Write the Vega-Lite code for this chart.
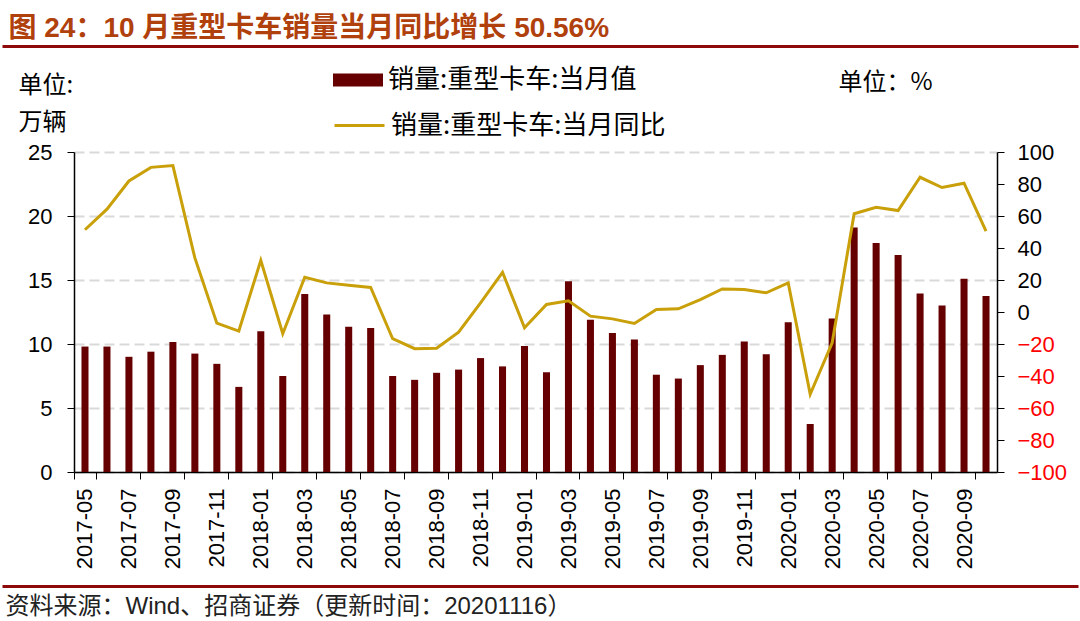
{
  "$schema": "https://vega.github.io/schema/vega-lite/v6.json",
  "width": 923,
  "height": 320,
  "autosize": {"type": "none"},
  "padding": {"left": 74, "top": 152, "right": 83, "bottom": 149},
  "background": "white",
  "config": {
    "view": {"stroke": null},
    "font": "Liberation Sans, Noto Sans CJK SC",
    "axis": {"labelFont": "Liberation Sans", "titleFont": "Noto Sans CJK SC", "labelColor": "black", "titleColor": "black", "titleFontWeight": "normal", "titleLimit": 2000, "labelOverlap": false, "labelFlush": false},
    "legend": {"labelFont": "Noto Sans CJK SC", "labelColor": "black", "labelLimit": 1000, "padding": 0, "rowPadding": 0, "offset": 0}
  },
  "datasets": {
    "d": [
      {"m": "2017-05", "v": 9.8, "yoy": 51.4},
      {"m": "2017-06", "v": 9.8, "yoy": 64.3},
      {"m": "2017-07", "v": 9.0, "yoy": 81.9},
      {"m": "2017-08", "v": 9.4, "yoy": 90.4},
      {"m": "2017-09", "v": 10.15, "yoy": 91.5},
      {"m": "2017-10", "v": 9.25, "yoy": 33.8},
      {"m": "2017-11", "v": 8.45, "yoy": -7.0},
      {"m": "2017-12", "v": 6.65, "yoy": -11.9},
      {"m": "2018-01", "v": 11.0, "yoy": 32.3},
      {"m": "2018-02", "v": 7.5, "yoy": -13.6},
      {"m": "2018-03", "v": 13.9, "yoy": 21.7},
      {"m": "2018-04", "v": 12.3, "yoy": 18.2},
      {"m": "2018-05", "v": 11.35, "yoy": 16.7},
      {"m": "2018-06", "v": 11.25, "yoy": 15.3},
      {"m": "2018-07", "v": 7.5, "yoy": -16.7},
      {"m": "2018-08", "v": 7.2, "yoy": -22.9},
      {"m": "2018-09", "v": 7.75, "yoy": -22.7},
      {"m": "2018-10", "v": 8.0, "yoy": -12.6},
      {"m": "2018-11", "v": 8.9, "yoy": 5.7},
      {"m": "2018-12", "v": 8.25, "yoy": 24.8},
      {"m": "2019-01", "v": 9.85, "yoy": -9.9},
      {"m": "2019-02", "v": 7.8, "yoy": 4.7},
      {"m": "2019-03", "v": 14.9, "yoy": 7.0},
      {"m": "2019-04", "v": 11.9, "yoy": -2.6},
      {"m": "2019-05", "v": 10.85, "yoy": -4.3},
      {"m": "2019-06", "v": 10.35, "yoy": -7.2},
      {"m": "2019-07", "v": 7.6, "yoy": 1.6},
      {"m": "2019-08", "v": 7.3, "yoy": 2.0},
      {"m": "2019-09", "v": 8.35, "yoy": 7.8},
      {"m": "2019-10", "v": 9.15, "yoy": 14.4},
      {"m": "2019-11", "v": 10.2, "yoy": 14.0},
      {"m": "2019-12", "v": 9.2, "yoy": 12.0},
      {"m": "2020-01", "v": 11.7, "yoy": 18.2},
      {"m": "2020-02", "v": 3.75, "yoy": -51.4},
      {"m": "2020-03", "v": 12.0, "yoy": -19.2},
      {"m": "2020-04", "v": 19.1, "yoy": 61.4},
      {"m": "2020-05", "v": 17.9, "yoy": 65.5},
      {"m": "2020-06", "v": 16.95, "yoy": 63.4},
      {"m": "2020-07", "v": 13.95, "yoy": 84.2},
      {"m": "2020-08", "v": 13.0, "yoy": 77.8},
      {"m": "2020-09", "v": 15.1, "yoy": 80.5},
      {"m": "2020-10", "v": 13.75, "yoy": 50.56}
    ]
  },
  "data": {"name": "d"},
  "layer": [
    {
      "layer": [
        {
          "mark": {"type": "bar", "width": {"band": 0.32}},
          "encoding": {
            "x": {
              "field": "m", "type": "ordinal",
              "scale": {"paddingInner": 0, "paddingOuter": 0},
              "axis": {
                "values": ["2017-05","2017-07","2017-09","2017-11","2018-01","2018-03","2018-05","2018-07","2018-09","2018-11","2019-01","2019-03","2019-05","2019-07","2019-09","2019-11","2020-01","2020-03","2020-05","2020-07","2020-09"],
                "tickBand": "extent",
                "labelAngle": -90,
                "labelFontSize": 22,
                "labelPadding": 9,
                "tickSize": 7,
                "tickColor": "black",
                "domainColor": "black",
                "domainWidth": 1.5,
                "grid": false,
                "title": null
              }
            },
            "y": {
              "field": "v", "type": "quantitative",
              "scale": {"domain": [0, 25], "nice": false},
              "axis": {
                "values": [0, 5, 10, 15, 20, 25],
                "labelFontSize": 22,
                "labelPadding": 15,
                "tickSize": 7,
                "tickColor": "black",
                "domainColor": "black",
                "domainWidth": 1.5,
                "grid": true,
                "gridColor": "#D9D9D9",
                "gridDash": [10, 5],
                "gridWidth": 2,
                "title": ["单位:", "万辆"],
                "titleFontSize": 24,
                "titleAngle": 0,
                "titleAlign": "left",
                "titleBaseline": "alphabetic",
                "titleLineHeight": 37,
                "titleX": -56,
                "titleY": -60
              }
            },
            "color": {
              "datum": "销量:重型卡车:当月值",
              "scale": {"range": ["#660000"]},
              "legend": {
                "title": null,
                "orient": "none",
                "legendX": 259,
                "legendY": -97,
                "symbolType": "M-1,-0.26H1V0.26H-1Z",
                "symbolSize": 2500,
                "symbolStrokeWidth": 0,
                "symbolOpacity": 1,
                "labelFontSize": 26,
                "labelOffset": 5
              }
            }
          }
        },
        {
          "mark": {"type": "line", "strokeWidth": 3},
          "encoding": {
            "x": {"field": "m", "type": "ordinal"},
            "y": {
              "field": "yoy", "type": "quantitative",
              "scale": {"domain": [-100, 100], "nice": false},
              "axis": {
                "orient": "right",
                "values": [-100, -80, -60, -40, -20, 0, 20, 40, 60, 80, 100],
                "labelFontSize": 22,
                "labelPadding": 13,
                "labelColor": {"condition": {"test": "datum.value < 0", "value": "#FF0000"}, "value": "black"},
                "tickSize": 7,
                "tickColor": "black",
                "domainColor": "black",
                "domainWidth": 1.5,
                "grid": false,
                "title": "单位：%",
                "titleFontSize": 24,
                "titleAngle": 0,
                "titleAlign": "left",
                "titleBaseline": "alphabetic",
                "titleX": -159,
                "titleY": -63
              }
            },
            "stroke": {
              "datum": "销量:重型卡车:当月同比",
              "scale": {"range": ["#C9A00A"]},
              "legend": {
                "title": null,
                "orient": "none",
                "legendX": 259,
                "legendY": -53,
                "symbolType": "stroke",
                "symbolSize": 2500,
                "symbolStrokeWidth": 3,
                "labelFontSize": 26,
                "labelOffset": 5
              }
            }
          }
        }
      ],
      "resolve": {"scale": {"y": "independent"}}
    },
    {
      "mark": {"type": "point", "opacity": 0},
      "encoding": {
        "x": {
          "field": "m", "type": "ordinal",
          "scale": {"range": [-72, 1004]},
          "axis": {
            "orient": "top",
            "offset": 106,
            "domainColor": "#8E0A0A",
            "domainWidth": 3,
            "ticks": false,
            "labels": false,
            "grid": false,
            "title": "图 24：10 月重型卡车销量当月同比增长 50.56%",
            "titleFont": "Liberation Sans, Noto Sans CJK SC",
            "titleFontSize": 28,
            "titleFontWeight": "bold",
            "titleColor": "#B0400C",
            "titleAlign": "left",
            "titleBaseline": "alphabetic",
            "titleX": -66,
            "titleY": -10
          }
        }
      }
    },
    {
      "mark": {"type": "point", "opacity": 0},
      "encoding": {
        "x": {
          "field": "m", "type": "ordinal",
          "scale": {"range": [-72, 1004]},
          "axis": {
            "orient": "bottom",
            "offset": 114,
            "domainColor": "#8E0A0A",
            "domainWidth": 3,
            "ticks": false,
            "labels": false,
            "grid": false,
            "title": "资料来源：Wind、招商证券（更新时间：20201116）",
            "titleFont": "Liberation Sans, Noto Sans CJK SC",
            "titleFontSize": 24,
            "titleColor": "#222222",
            "titleAlign": "left",
            "titleBaseline": "alphabetic",
            "titleX": -69,
            "titleY": 27
          }
        }
      }
    }
  ],
  "resolve": {"scale": {"x": "independent", "y": "independent"}}
}
